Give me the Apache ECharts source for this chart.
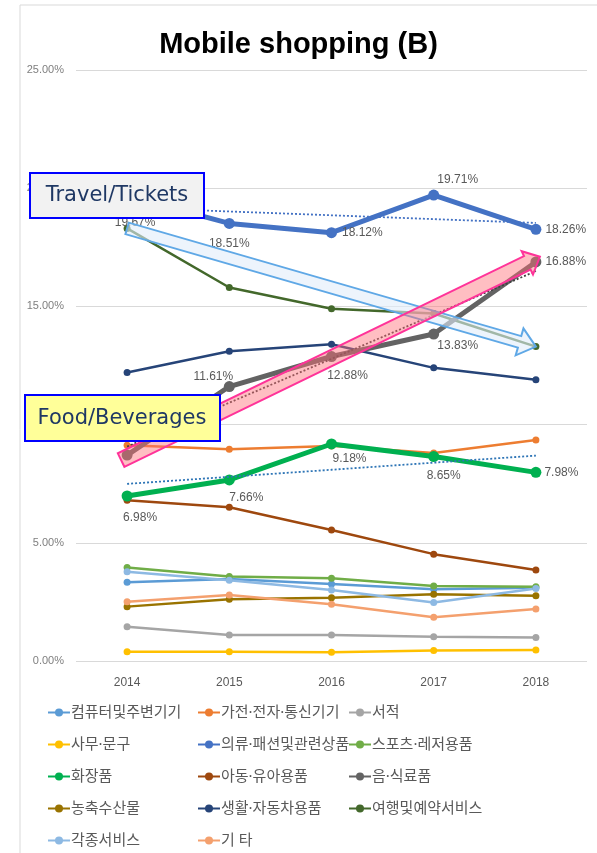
<!DOCTYPE html>
<html>
<head>
<meta charset="utf-8">
<script src="https://cdn.jsdelivr.net/npm/echarts@6.0.0/dist/echarts.min.js"></script>
<style>
html, body { margin: 0; padding: 0; background: #fff; }
#main { width: 597px; height: 853px; }
</style>
</head>
<body>
<div id="main"></div>
<script>
// 연도
var years = ['2014', '2015', '2016', '2017', '2018'];

// 품목별 모바일 쇼핑 비중 (%)
var computer = [3.33, 3.47, 3.26, 3.03, 3.10];
var appliance = [9.13, 8.96, 9.10, 8.80, 9.35];
var books = [1.45, 1.10, 1.10, 1.03, 0.99];
var office = [0.39, 0.39, 0.37, 0.44, 0.47];
var clothing = [19.67, 18.51, 18.12, 19.71, 18.26];
var sports = [3.96, 3.57, 3.50, 3.17, 3.14];
var cosmetics = [6.98, 7.66, 9.18, 8.65, 7.98];
var kids = [6.80, 6.50, 5.54, 4.52, 3.85];
var food = [8.71, 11.61, 12.88, 13.83, 16.88];
var agri = [2.30, 2.61, 2.68, 2.82, 2.76];
var living = [12.20, 13.10, 13.40, 12.40, 11.90];
var travel = [18.30, 15.80, 14.90, 14.70, 13.30];
var services = [3.78, 3.42, 3.00, 2.47, 3.07];
var others = [2.51, 2.79, 2.40, 1.85, 2.20];

// y축 눈금
var yTicks = [0, 5, 10, 15, 20, 25];

// 범례 (3열)
var legendCol1 = ['컴퓨터및주변기기', '사무·문구', '화장품', '농축수산물', '각종서비스'];
var legendCol2 = ['가전·전자·통신기기', '의류·패션및관련상품', '아동·유아용품', '생활·자동차용품', '기 타'];
var legendCol3 = ['서적', '스포츠·레저용품', '음·식료품', '여행및예약서비스'];

var labelColor = '#595959';

// 선형 추세선
function trend(arr) {
    var n = arr.length, mx = (n - 1) / 2, my = 0;
    for (var i = 0; i < n; i++) my += arr[i];
    my = my / n;
    var sxy = 0, sxx = 0;
    for (var i = 0; i < n; i++) {
        sxy += (i - mx) * (arr[i] - my);
        sxx += (i - mx) * (i - mx);
    }
    var b = sxy / sxx;
    var out = [];
    for (var i = 0; i < n; i++) out.push(+(my + b * (i - mx)).toFixed(3));
    return out;
}

// 데이터 레이블 위치 (스타일)
function withLabels(arr, pos, offs, dist) {
    var out = [];
    for (var i = 0; i < arr.length; i++) {
        var d = { value: arr[i] };
        if (pos[i]) {
            d.label = {
                show: true,
                position: pos[i],
                offset: offs[i],
                distance: dist[i],
                formatter: function (p) { return p.value.toFixed(2) + '%'; },
                color: labelColor,
                fontSize: 12,
                fontFamily: 'Liberation Sans'
            };
        }
        out.push(d);
    }
    return out;
}

function lineSeries(name, data, color, thick) {
    return {
        name: name,
        type: 'line',
        data: data,
        symbol: 'circle',
        symbolSize: thick ? 11 : 7,
        lineStyle: { color: color, width: thick ? 5 : 2.5 },
        itemStyle: { color: color },
        z: thick ? 4 : 3
    };
}

function trendSeries(data, color) {
    return {
        type: 'line',
        data: trend(data),
        symbol: 'none',
        silent: true,
        lineStyle: { color: color, width: 1.8, type: [2, 2] },
        z: 5
    };
}

var chart = echarts.init(document.getElementById('main'));

var legendBase = {
    orient: 'vertical',
    top: 705,
    padding: 0,
    itemWidth: 22,
    itemHeight: 10,
    itemGap: 17,
    textStyle: {
        color: labelColor, fontSize: 15, lineHeight: 14,
        fontFamily: '"Noto Sans", "Noto Sans CJK KR"', padding: [0, 0, 0, -4]
    }
};

var option = {
    backgroundColor: '#fff',
    animation: false,
    title: {
        text: 'Mobile shopping (B)',
        left: 'center',
        top: 25,
        textStyle: { fontSize: 29, fontWeight: 'bold', color: '#000', fontFamily: 'Liberation Sans' }
    },
    legend: [
        Object.assign({}, legendBase, { left: 47, data: legendCol1 }),
        Object.assign({}, legendBase, { left: 197, data: legendCol2 }),
        Object.assign({}, legendBase, { left: 348, data: legendCol3 })
    ],
    grid: { left: 76, right: 10, top: 70, bottom: 192 },
    xAxis: {
        type: 'category',
        data: years,
        boundaryGap: true,
        axisLine: { show: false },
        axisTick: { show: false },
        axisLabel: { color: labelColor, fontSize: 12, fontFamily: 'Liberation Sans', margin: 16 }
    },
    yAxis: {
        type: 'value',
        min: yTicks[0],
        max: yTicks[yTicks.length - 1],
        interval: yTicks[1] - yTicks[0],
        axisLine: { show: false },
        axisTick: { show: false },
        splitLine: { lineStyle: { color: '#d9d9d9', width: 1 } },
        axisLabel: {
            color: '#7f7f7f', fontSize: 11, fontFamily: 'Liberation Sans', margin: 12,
            formatter: function (v) { return v.toFixed(2) + '%'; }
        }
    },
    series: [
        lineSeries('컴퓨터및주변기기', computer, '#5B9BD5'),
        lineSeries('가전·전자·통신기기', appliance, '#ED7D31'),
        lineSeries('서적', books, '#A5A5A5'),
        lineSeries('사무·문구', office, '#FFC000'),
        lineSeries('의류·패션및관련상품',
            withLabels(clothing, ['bottom', 'bottom', 'right', 'top', 'right'],
                [[8, 0], [0, 0], [0, 0], [24, 0], [0, 0]], [15, 9, 5, 4, 4]),
            '#4472C4', true),
        lineSeries('스포츠·레저용품', sports, '#70AD47'),
        lineSeries('화장품',
            withLabels(cosmetics, ['bottom', 'bottom', 'bottom', 'bottom', 'right'],
                [[13, 0], [17, 0], [18, 0], [10, 0], [0, 0]], [10, 6, 3, 8, 3]),
            '#00B050', true),
        lineSeries('아동·유아용품', kids, '#9E480E'),
        lineSeries('음·식료품',
            withLabels(food, [null, 'top', 'bottom', 'bottom', 'right'],
                [[0, 0], [-16, 4], [16, 0], [24, 0], [0, 0]], [0, 2, 8, 0, 4]),
            '#636363', true),
        lineSeries('농축수산물', agri, '#997300'),
        lineSeries('생활·자동차용품', living, '#264478'),
        lineSeries('여행및예약서비스', travel, '#43682B'),
        lineSeries('각종서비스', services, '#8DB9E3'),
        lineSeries('기 타', others, '#F4A06E'),
        trendSeries(clothing, '#4472C4'),
        trendSeries(food, '#404040'),
        trendSeries(cosmetics, '#2E75B6')
    ]
};

chart.setOption(option);

// 화살표 주석
function arrowPoints(t, p, w, h, hw) {
    var dx = p[0] - t[0], dy = p[1] - t[1];
    var len = Math.sqrt(dx * dx + dy * dy);
    var ux = dx / len, uy = dy / len;
    var nx = -uy, ny = ux;
    var bx = p[0] - ux * h, by = p[1] - uy * h;
    return [
        [t[0] + nx * w, t[1] + ny * w],
        [bx + nx * w, by + ny * w],
        [bx + nx * hw, by + ny * hw],
        [p[0], p[1]],
        [bx - nx * hw, by - ny * hw],
        [bx - nx * w, by - ny * w],
        [t[0] - nx * w, t[1] - ny * w]
    ];
}

var travelTail = chart.convertToPixel({ gridIndex: 0 }, [0, 18.3]);
var travelTip = chart.convertToPixel({ gridIndex: 0 }, [4, 13.3]);
var foodTail = chart.convertToPixel({ gridIndex: 0 }, [0, 8.5]);
var foodTip = chart.convertToPixel({ gridIndex: 0 }, [4, 17.1]);
foodTail[0] -= 6;
foodTip[0] += 4;

chart.setOption({
    graphic: [
        {
            type: 'rect', z: 1, silent: true,
            shape: { x: 20, y: 5, width: 700, height: 900 },
            style: { fill: 'none', stroke: '#d9d9d9', lineWidth: 1 }
        },
        {
            type: 'polygon', z: 50, silent: true,
            shape: { points: arrowPoints(travelTail, travelTip, 6, 17, 14) },
            style: { fill: 'rgba(225,236,250,0.6)', stroke: '#5FA8E6', lineWidth: 2 }
        },
        {
            type: 'polygon', z: 50, silent: true,
            shape: { points: arrowPoints(foodTail, foodTip, 7.5, 14, 13) },
            style: { fill: 'rgba(255,110,120,0.45)', stroke: '#FF3399', lineWidth: 2 }
        },
        {
            type: 'group', z: 60, left: 29, top: 172,
            children: [
                {
                    type: 'rect', z: 60,
                    shape: { x: 0, y: 0, width: 174, height: 45 },
                    style: { fill: '#F2F2F2', stroke: '#0000FF', lineWidth: 2 }
                },
                {
                    type: 'text', z: 61, x: 87, y: 23,
                    style: {
                        text: 'Travel/Tickets', fill: '#1F3864', font: '21px DejaVu Sans',
                        textAlign: 'center', textVerticalAlign: 'middle'
                    }
                }
            ]
        },
        {
            type: 'group', z: 60, left: 24, top: 394,
            children: [
                {
                    type: 'rect', z: 60,
                    shape: { x: 0, y: 0, width: 195, height: 46 },
                    style: { fill: '#FFFF99', stroke: '#0000FF', lineWidth: 2 }
                },
                {
                    type: 'text', z: 61, x: 97, y: 24,
                    style: {
                        text: 'Food/Beverages', fill: '#1F3864', font: '21px DejaVu Sans',
                        textAlign: 'center', textVerticalAlign: 'middle'
                    }
                }
            ]
        }
    ]
});
</script>
</body>
</html>
